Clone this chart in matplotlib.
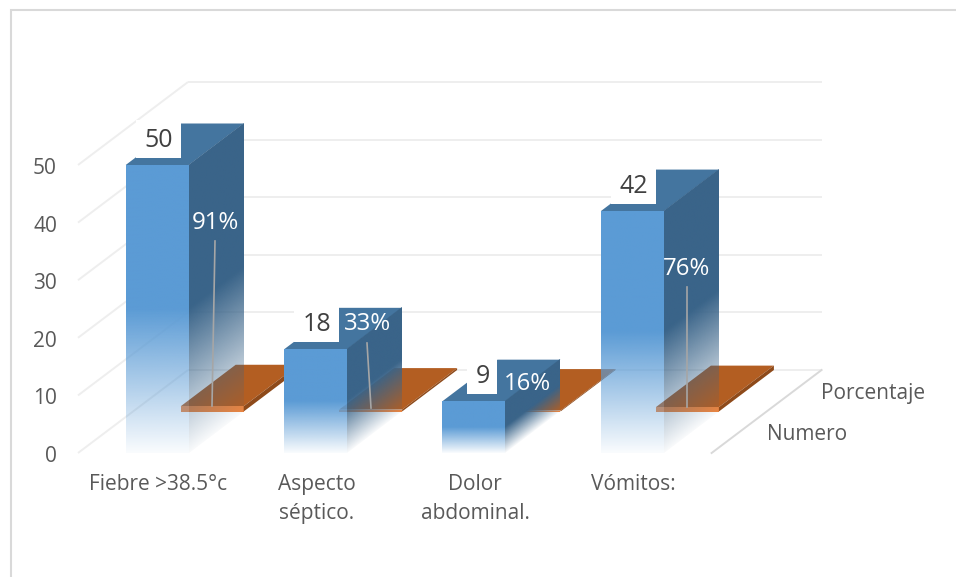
import numpy as np
import matplotlib
matplotlib.use("Agg")
import matplotlib.pyplot as plt
from matplotlib.colors import to_rgb
from matplotlib.patches import Polygon, Rectangle
from matplotlib.transforms import Affine2D

categories = ["Fiebre >38.5°c", "Aspecto\nséptico.", "Dolor\nabdominal.", "Vómitos:"]
numero = [50, 18, 9, 42]
porcentaje = [91, 33, 16, 76]
series_names = ["Numero", "Porcentaje"]
ticks = [0, 10, 20, 30, 40, 50]

FRONT, TOP, SIDE = "#5B9BD5", "#44759F", "#3A6489"
OR_FRONT, OR_TOP, OR_SIDE = "#EE8640", "#B35E22", "#8E4A1A"
GRID, TXT = "#EEEEEE", "#595959"

plt.rcParams["font.family"] = ["Open Sans", "DejaVu Sans"]
fig = plt.figure(figsize=(9.56, 5.77), dpi=100)
ax = fig.add_axes([0, 0, 1, 1])
ax.axis("off")

X0, Y0, STEP, BW = 78, 453, 158.4, 63
UNIT = 5.76
DX, DY = 110, 83


def P(x, v, d):
    """Oblique projection: x on the front plane, value v, depth d in 0..1."""
    return X0 + x + DX * d, Y0 - UNIT * v - DY * d


def poly(pts, color, z):
    ax.add_patch(Polygon(pts, closed=True, facecolor=color, edgecolor="none", zorder=z))


def fade_face(p00, p10, p01, color, z):
    """Parallelogram with base p00-p10 and edge p00-p01: solid upper half, fading lower half."""
    n = 256
    t = (np.arange(n) + 0.5) / n
    img = np.zeros((n, 1, 4))
    img[..., :3] = to_rgb(color)
    img[:, 0, 3] = np.clip(0.03 + t / 0.5 * 0.97, 0, 1)
    mat = np.array([[p10[0] - p00[0], p01[0] - p00[0], p00[0]],
                    [p10[1] - p00[1], p01[1] - p00[1], p00[1]],
                    [0, 0, 1]])
    ax.imshow(img, origin="lower", extent=(0, 1, 0, 1), aspect="auto", zorder=z,
              interpolation="bilinear", transform=Affine2D(mat) + ax.transData)


# walls and floor
for t in ticks:
    ax.plot(*zip(P(0, t, 0), P(0, t, 1)), color=GRID, lw=1.4, zorder=1, solid_capstyle="butt")
    ax.plot(*zip(P(0, t, 1), P(STEP * 4, t, 1)), color=GRID, lw=1.4, zorder=1, solid_capstyle="butt")
    ax.text(57, Y0 - UNIT * t + 3.5, str(t), ha="right", va="center", fontsize=15, color=TXT, zorder=9)
ax.plot(*zip(P(STEP * 4, 0, 0), P(STEP * 4, 0, 1)), color="#D9D9D9", lw=1.4, zorder=1)

lefts = [STEP * (i + 0.5) - BW / 2 for i in range(4)]

# back series: nearly flat plates
for x, pct in zip(lefts, porcentaje):
    v = pct / 100
    poly([P(x, v, .5), P(x + BW, v, .5), P(x + BW, v, 1), P(x, v, 1)], OR_TOP, 2)
    poly([P(x, 0, .5), P(x + BW, 0, .5), P(x + BW, v, .5), P(x, v, .5)], OR_FRONT, 2.1)
    poly([P(x + BW, 0, .5), P(x + BW, 0, 1), P(x + BW, v, 1), P(x + BW, v, .5)], OR_SIDE, 2.1)

# front series: fading columns
for x, val in zip(lefts, numero):
    poly([P(x, val, 0), P(x + BW, val, 0), P(x + BW, val, .5), P(x, val, .5)], TOP, 3)
    fade_face(P(x + BW, 0, 0), P(x + BW, 0, .5), P(x + BW, val, 0), SIDE, 3)
    fade_face(P(x, 0, 0), P(x + BW, 0, 0), P(x, val, 0), FRONT, 4)

# data labels
for x, val in zip(lefts, numero):
    right = P(x, val, .5)[0]
    bottom = P(x, val, 0)[1] - 7
    w = 30 if val < 10 else 45
    ax.add_patch(Rectangle((right - w, bottom - 38), w, 38, facecolor="white", edgecolor="none", zorder=5))
    ax.text(right - w / 2, bottom - 17.5, str(val), ha="center", va="center", fontsize=18, color="#404040", zorder=6)

pct_xy = [(215, 223), (368, 324), (528, 384), (687, 269)]
leaders = [((215, 241), (212, 406)), ((367, 343), (371, 408)), None, ((687, 287), (687, 407))]
for (px, py), pct, ld in zip(pct_xy, porcentaje, leaders):
    ax.text(px, py, f"{pct}%", ha="center", va="center", fontsize=17.3, color="white", zorder=6)
    if ld:
        ax.plot(*zip(*ld), color="#A6A6A6", lw=1.2, zorder=5)

# category and series labels
for x, c in zip(lefts, categories):
    ax.text(X0 + x + BW / 2 + 1, 474, c, ha="center", va="top", fontsize=15, color=TXT,
            linespacing=1.5, zorder=9)
ax.text(807, 434, series_names[0], ha="center", va="center", fontsize=15, color=TXT)
ax.text(873, 393, series_names[1], ha="center", va="center", fontsize=15, color=TXT)

# chart frame (left and top edges only are inside the picture)
ax.plot([11, 11, 956], [577, 10, 10], color="#D9D9D9", lw=1.5, zorder=0, solid_joinstyle="miter")

ax.set_xlim(0, 956)
ax.set_ylim(577, 0)
fig.savefig("out.png", dpi=100)
